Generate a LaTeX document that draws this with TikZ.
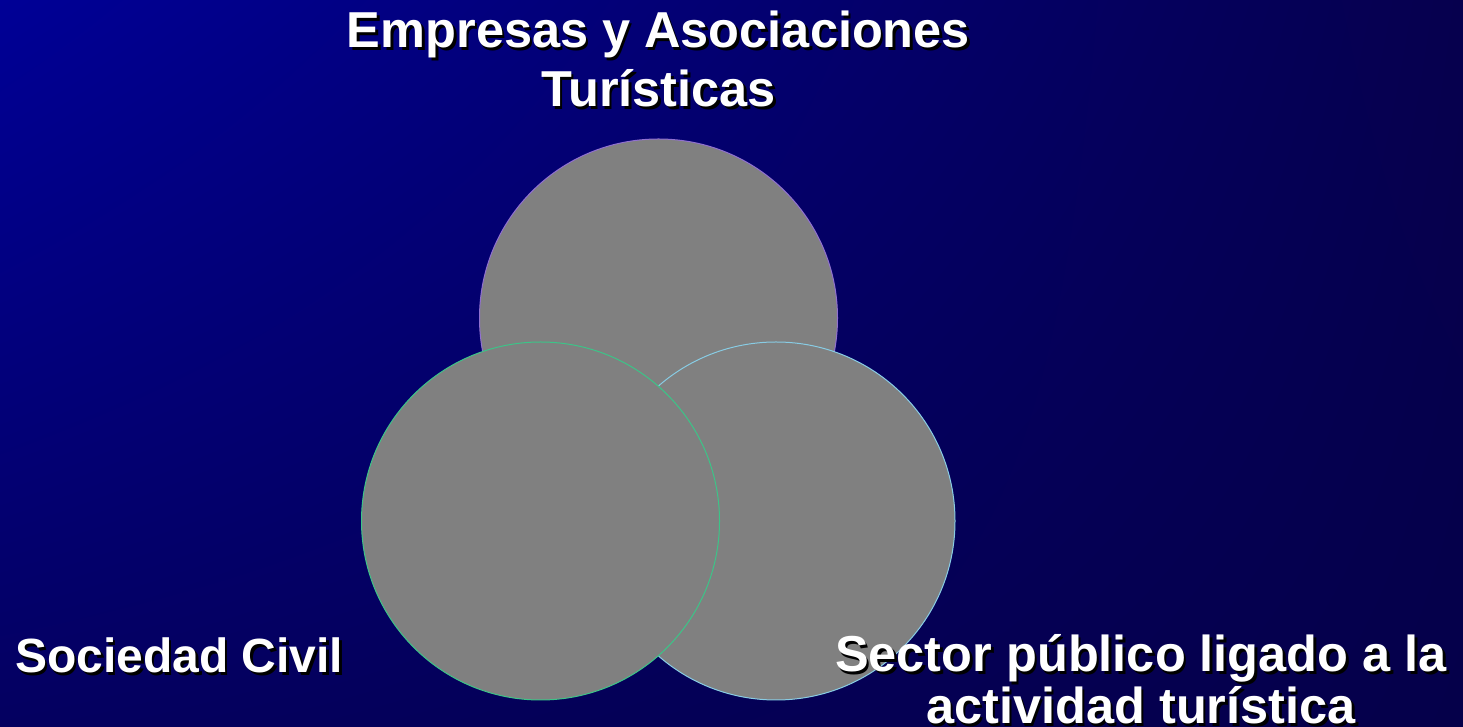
\documentclass[tikz,border=0pt]{standalone}
\usepackage{fontspec}
\setmainfont{Liberation Sans}
\usepackage{tikz}
\usetikzlibrary{shapes,calc,shadings}
\definecolor{bgTL}{HTML}{000096}
\definecolor{bgTR}{HTML}{06004E}
\definecolor{bgBL}{HTML}{040060}
\definecolor{bgBR}{HTML}{05004A}
\definecolor{discGray}{HTML}{808080}
\definecolor{rimTop}{HTML}{9070D0}
\definecolor{rimLeft}{HTML}{3CC488}
\definecolor{rimRight}{HTML}{88CCE4}
\newcommand{\shd}[1]{\leavevmode\rlap{\kern2.5pt\raisebox{-2.5pt}{\color{black}#1}}#1}
\tikzstyle{disc}  = [circle,draw,fill=discGray,line width=1pt,inner sep=0pt,minimum size=358pt]
\tikzstyle{title} = [text=white,font=\bfseries\fontsize{50.5}{60}\selectfont,align=center,inner sep=0pt]

\begin{document}
\begin{tikzpicture}[x=1pt,y=1pt]
	\useasboundingbox (0,0) rectangle (1463,727);
	\shade[upper left=bgTL,upper right=bgTR,lower left=bgBL,lower right=bgBR] (0,0) rectangle (1463,727);
	
	\node[disc,color=rimTop,fill=discGray]   (top)   at (658.5,409) {};
	\node[disc,color=rimRight,fill=discGray] (right) at (776,206) {};
	\node[disc,color=rimLeft,fill=discGray]  (left)  at (540.5,206) {};
	
	\node[title,anchor=base] (empresas1) at (658.5,679) {\shd{Empresas y Asociaciones}};
	\node[title,anchor=base] (empresas2) at (658.5,620) {\shd{Turísticas}};
	\node[title,anchor=base west,font=\bfseries\fontsize{48}{58}\selectfont] (sociedad) at (15,54) {\shd{Sociedad Civil}};
	\node[title,anchor=base] (sector1) at (1141,55) {\shd{Sector público ligado a la}};
	\node[title,anchor=base] (sector2) at (1141,3) {\shd{actividad turística}};
\end{tikzpicture}
\end{document}
